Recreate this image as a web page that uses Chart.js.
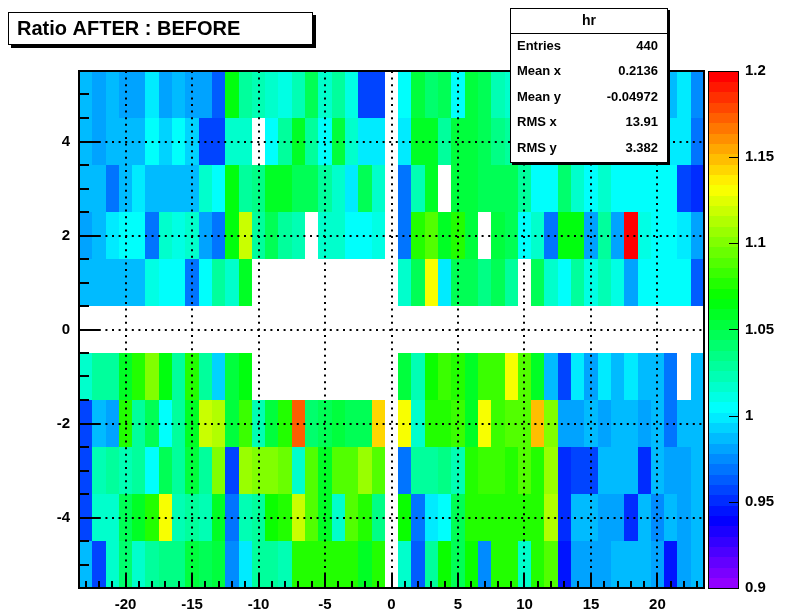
<!DOCTYPE html>
<html>
<head>
<meta charset="utf-8">
<title>Ratio AFTER : BEFORE</title>
<script src="https://cdn.jsdelivr.net/npm/chart.js@4.4.1/dist/chart.umd.min.js"></script>
<style>
  html, body {margin: 0; padding: 0; background: #fff;}
</style>
</head>
<body>
<canvas id="hr" width="787" height="614"></canvas>
<script>
// bin centres (width 1 in both directions)
const xCenters = [-23,-22,-21,-20,-19,-18,-17,-16,-15,-14,-13,-12,-11,-10,-9,-8,-7,-6,-5,-4,-3,-2,-1,0,
                  1,2,3,4,5,6,7,8,9,10,11,12,13,14,15,16,17,18,19,20,21,22,23];
const yCenters = [5,4,3,2,1,0,-1,-2,-3,-4,-5];

// ratio per row, left to right (null = empty bin)
const rowP5 = [0.988,0.984,0.988,0.984,0.980,0.997,0.984,0.988,0.984,0.980,0.963,1.065,
               1.027,1.022,1.014,1.010,1.022,1.048,1.014,1.027,1.010,0.958,0.958,null,
               1.002,1.052,1.040,1.048,1.006,1.052,1.044,1.022,1.018,1.010,1.000,1.020,
               1.000,0.990,1.010,1.000,0.990,0.995,1.005,0.990,0.988,0.997,0.975];
const rowP4 = [0.988,0.984,0.988,0.988,0.988,1.002,0.993,1.002,0.993,0.960,0.960,1.016,
               1.018,null,1.002,1.031,1.057,1.031,1.006,1.052,1.018,0.997,0.997,null,
               0.997,1.061,1.061,1.031,1.052,1.052,1.044,1.035,1.030,1.020,1.010,1.000,
               1.020,1.010,1.000,1.010,0.990,1.000,1.005,0.995,0.997,0.997,0.967];
const rowP3 = [0.988,0.988,0.971,0.988,0.998,0.988,0.988,0.988,0.988,1.014,1.002,1.065,
               1.031,1.035,1.057,1.057,1.048,1.048,1.031,1.018,0.997,1.048,1.014,null,
               0.971,1.022,1.057,null,1.052,1.052,1.048,1.048,1.044,1.027,1.006,1.006,
               1.040,1.018,1.006,1.014,1.006,1.006,1.006,1.002,1.006,0.958,0.950];
const rowP2 = [0.984,0.988,0.997,1.002,1.002,0.967,1.014,1.010,1.014,0.980,0.967,1.065,
               1.117,1.031,1.048,1.031,1.022,null,1.014,1.014,1.002,1.002,1.010,null,
               0.971,1.078,1.087,1.057,1.074,1.052,null,1.052,1.048,1.006,1.014,0.971,
               1.065,1.065,0.980,1.027,0.984,1.197,1.010,1.006,1.006,0.997,0.984];
const rowP1 = [0.988,0.988,0.988,0.988,0.988,1.010,1.006,1.002,0.967,1.002,1.027,1.014,
               1.057,null,null,null,null,null,null,null,null,null,null,null,
               1.014,1.048,1.134,0.997,1.048,1.044,1.035,1.048,1.027,null,1.044,1.014,
               1.006,1.027,1.010,1.022,1.010,0.984,1.006,1.006,1.002,1.006,0.963];
const row0  = [null,null,null,null,null,null,null,null,null,null,null,null,
               null,null,null,null,null,null,null,null,null,null,null,null,
               null,null,null,null,null,null,null,null,null,null,null,null,
               null,null,null,null,null,null,null,null,null,null,null];
const rowM1 = [1.014,1.027,1.027,1.057,1.074,1.100,1.065,1.031,1.078,1.027,0.993,1.052,
               1.065,null,null,null,null,null,null,null,null,null,null,null,
               1.052,1.022,1.070,1.083,1.078,1.061,1.083,1.083,1.130,1.087,1.057,0.988,
               0.958,0.997,0.984,0.997,0.988,0.997,0.988,0.988,0.971,null,0.988];
const rowM2 = [0.958,0.988,0.980,1.074,1.031,1.048,1.006,1.031,1.057,1.117,1.112,1.052,
               1.083,1.022,1.052,1.074,1.172,1.040,1.048,1.052,1.048,1.044,1.142,null,
               1.134,1.014,1.078,1.078,1.083,1.057,1.134,1.083,1.087,1.091,1.151,1.100,
               0.984,0.980,0.988,0.980,0.988,0.988,0.980,0.988,0.971,0.988,0.988];
const rowM3 = [0.958,1.022,1.027,1.022,1.027,1.002,1.044,1.031,1.052,1.031,1.100,0.958,
               1.108,1.100,1.100,1.095,1.018,1.091,1.057,1.091,1.087,1.104,1.091,null,
               0.971,1.031,1.031,1.035,1.022,1.078,1.083,1.083,1.074,1.087,1.074,1.105,
               0.950,0.958,0.958,0.988,0.988,0.988,0.954,0.988,0.984,0.984,0.988];
const rowM4 = [0.958,1.018,1.018,1.048,1.057,1.074,1.130,1.022,1.031,1.022,1.057,0.967,
               1.022,1.031,1.070,1.074,1.117,1.091,1.057,1.018,1.091,1.074,1.035,null,
               1.070,0.971,0.997,1.002,1.048,1.074,1.074,1.074,1.074,1.078,1.074,1.115,
               0.954,0.988,0.988,0.984,0.984,0.950,0.988,0.975,0.988,0.984,0.988];
const rowM5 = [0.988,0.958,1.014,1.040,1.018,1.031,1.035,1.035,1.052,1.048,1.052,0.975,
               0.997,1.031,1.031,1.022,1.074,1.074,1.074,1.078,1.078,1.057,1.074,null,
               1.018,0.963,1.031,1.070,1.048,1.070,0.975,1.074,1.074,1.014,1.074,1.091,
               0.946,0.980,0.984,0.980,0.988,0.988,0.988,0.984,0.946,0.984,0.988];

const zMin = 0.9, zMax = 1.2;
const titleText = 'Ratio AFTER : BEFORE';
const statsName = 'hr';
const statsLabels = ['Entries', 'Mean x', 'Mean y', 'RMS x', 'RMS y'];
const statsValues = ['440', '0.2136', '-0.04972', '13.91', '3.382'];

const rows = [rowP5, rowP4, rowP3, rowP2, rowP1, row0, rowM1, rowM2, rowM3, rowM4, rowM5];
const cells = [];
rows.forEach((row, j) => row.forEach((v, i) => {
  if (v !== null) cells.push({x: xCenters[i], y: yCenters[j], v: v});
}));

// ROOT "pretty" palette: 50 hues from violet down to red
const nColors = 50;
function paletteColor(k) {
  const hue = 280 - (k + 1) * 280 / nColors;
  return 'hsl(' + hue + ',100%,50%)';
}
function colorFor(v) {
  let k = Math.floor((v - zMin) / (zMax - zMin) * nColors);
  k = Math.max(0, Math.min(nColors - 1, k));
  return paletteColor(k);
}

const FONT = '"Liberation Sans", Arial, Helvetica, sans-serif';

const colz = {
  id: 'colz',
  beforeDatasetsDraw(chart) {
    const {ctx, scales: {x, y}} = chart;
    ctx.save();
    chart.data.datasets[0].data.forEach(c => {
      const l = Math.round(x.getPixelForValue(c.x - 0.5));
      const r = Math.round(x.getPixelForValue(c.x + 0.5));
      const t = Math.round(y.getPixelForValue(c.y + 0.5));
      const b = Math.round(y.getPixelForValue(c.y - 0.5));
      ctx.fillStyle = colorFor(c.v);
      ctx.fillRect(l, t, r - l, b - t);
    });
    ctx.restore();
  },
  afterDatasetsDraw(chart) {
    const {ctx, chartArea: a, scales: {x, y}} = chart;
    ctx.save();
    ctx.strokeStyle = '#000';
    // dotted grid on major ticks
    ctx.lineWidth = 2;
    ctx.setLineDash([2, 4.6]);
    x.ticks.forEach(t => {
      if (t.value % 5 === 0) {
        const px = Math.round(x.getPixelForValue(t.value));
        ctx.beginPath(); ctx.moveTo(px, a.top); ctx.lineTo(px, a.bottom); ctx.stroke();
      }
    });
    y.ticks.forEach(t => {
      if (t.value % 2 === 0) {
        const py = Math.round(y.getPixelForValue(t.value));
        ctx.beginPath(); ctx.moveTo(a.left, py); ctx.lineTo(a.right, py); ctx.stroke();
      }
    });
    ctx.setLineDash([]);
    // tick marks inside the frame
    x.ticks.forEach(t => {
      const px = Math.round(x.getPixelForValue(t.value));
      const len = t.value % 5 === 0 ? 14 : 7;
      ctx.beginPath(); ctx.moveTo(px, a.bottom); ctx.lineTo(px, a.bottom - len); ctx.stroke();
    });
    y.ticks.forEach(t => {
      const py = Math.round(y.getPixelForValue(t.value));
      const len = t.value % 2 === 0 ? 21 : 10;
      ctx.beginPath(); ctx.moveTo(a.left, py); ctx.lineTo(a.left + len, py); ctx.stroke();
    });
    ctx.strokeRect(a.left, a.top, a.right - a.left, a.bottom - a.top);
    ctx.restore();
  },
  afterDraw(chart) {
    const {ctx, chartArea: a, scales: {z}} = chart;
    ctx.save();
    // palette
    const pl = a.right + 4, pr = a.right + 34;
    for (let k = 0; k < nColors; k++) {
      const b = z.getPixelForValue(zMin + k * (zMax - zMin) / nColors);
      const t = z.getPixelForValue(zMin + (k + 1) * (zMax - zMin) / nColors);
      ctx.fillStyle = paletteColor(k);
      ctx.fillRect(pl, Math.floor(t), pr - pl, Math.ceil(b) - Math.floor(t));
    }
    ctx.strokeStyle = '#000';
    ctx.lineWidth = 1;
    z.ticks.forEach(t => {
      const py = Math.round(z.getPixelForValue(t.value)) + 0.5;
      ctx.beginPath(); ctx.moveTo(pr, py); ctx.lineTo(pr - 9, py); ctx.stroke();
    });
    ctx.strokeRect(pl + 0.5, a.top + 0.5, pr - pl, a.bottom - a.top);

    // title box
    ctx.fillStyle = '#000';
    ctx.fillRect(11, 15, 305, 33);
    ctx.fillStyle = '#fff';
    ctx.fillRect(8, 12, 305, 33);
    ctx.strokeRect(8.5, 12.5, 304, 32);
    ctx.fillStyle = '#000';
    ctx.font = 'bold 20px ' + FONT;
    ctx.textBaseline = 'middle';
    ctx.textAlign = 'left';
    ctx.fillText(titleText, 17, 29);

    // stats box
    const sl = 510, st = 8, sw = 158, sh = 155;
    ctx.fillStyle = '#000';
    ctx.fillRect(sl + 2, st + 2, sw, sh);
    ctx.fillStyle = '#fff';
    ctx.fillRect(sl, st, sw, sh);
    ctx.strokeRect(sl + 0.5, st + 0.5, sw - 1, sh - 1);
    ctx.beginPath(); ctx.moveTo(sl, st + 25.5); ctx.lineTo(sl + sw, st + 25.5); ctx.stroke();
    ctx.fillStyle = '#000';
    ctx.font = 'bold 14px ' + FONT;
    ctx.textAlign = 'center';
    ctx.fillText(statsName, sl + sw / 2, st + 13);
    ctx.font = 'bold 13px ' + FONT;
    statsLabels.forEach((lab, i) => {
      const yy = st + 38 + i * 25.5;
      ctx.textAlign = 'left';
      ctx.fillText(lab, sl + 7, yy);
      ctx.textAlign = 'right';
      ctx.fillText(statsValues[i], sl + sw - 10, yy);
    });
    ctx.restore();
  }
};

new Chart(document.getElementById('hr'), {
  type: 'scatter',
  data: {
    datasets: [{
      label: 'hr',
      data: cells,
      pointRadius: 0,
      pointHoverRadius: 0
    }]
  },
  options: {
    responsive: false,
    animation: false,
    devicePixelRatio: 1,
    layout: {padding: {top: 71, left: 0, right: 0, bottom: 0}},
    plugins: {legend: {display: false}, tooltip: {enabled: false}},
    events: [],
    scales: {
      x: {
        type: 'linear', position: 'bottom', min: -23.5, max: 23.5,
        grid: {display: false, drawTicks: false},
        border: {display: false},
        afterBuildTicks: s => { s.ticks = xCenters.map(v => ({value: v})); },
        ticks: {
          autoSkip: false, maxRotation: 0, minRotation: 0, padding: 8,
          color: '#000', font: {family: FONT, size: 15, weight: 'bold'},
          callback: v => (v % 5 === 0) ? String(v) : ''
        },
        afterFit: s => { s.height = 26; }
      },
      y: {
        type: 'linear', position: 'left', min: -5.5, max: 5.5,
        grid: {display: false, drawTicks: false},
        border: {display: false},
        ticks: {
          stepSize: 0.5, autoSkip: false, padding: 9,
          color: '#000', font: {family: FONT, size: 15, weight: 'bold'},
          callback: v => (Number.isInteger(v) && v % 2 === 0) ? String(v) : ''
        },
        afterFit: s => { s.width = 79; }
      },
      z: {
        type: 'linear', position: 'right', min: zMin, max: zMax,
        // tick length only used to push labels clear of the palette bar
        grid: {display: false, drawTicks: true, tickLength: 41},
        border: {display: false},
        ticks: {
          stepSize: 0.05, autoSkip: false, padding: 0,
          color: '#000', font: {family: FONT, size: 15, weight: 'bold'},
          callback: v => String(+v.toFixed(2))
        },
        afterFit: s => { s.width = 83; }
      }
    }
  },
  plugins: [colz]
});
</script>
</body>
</html>
